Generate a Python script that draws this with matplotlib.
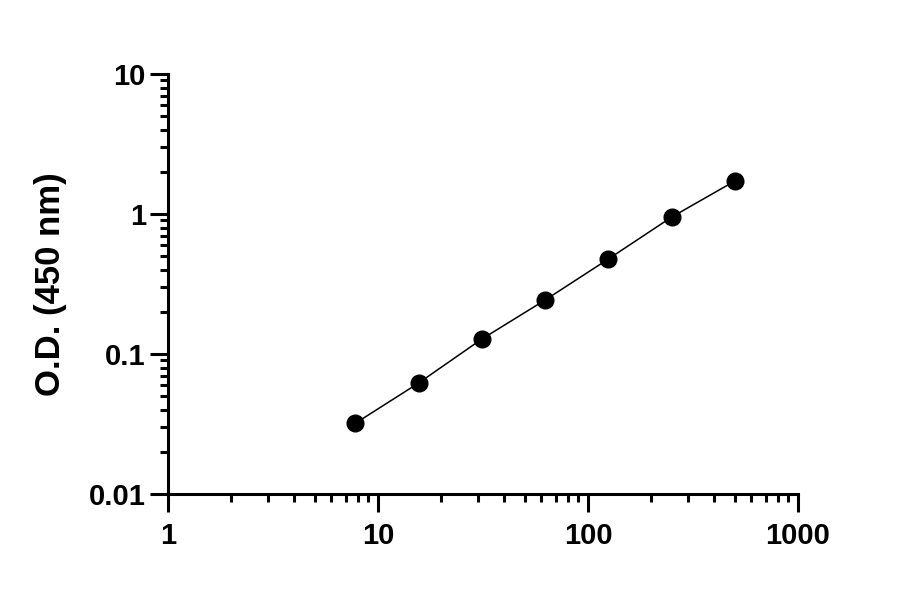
import numpy as np
import matplotlib
matplotlib.use('Agg')
import matplotlib.pyplot as plt
from matplotlib.ticker import LogLocator, FixedLocator, FixedFormatter, NullFormatter

# concentraciones (eje x) y densidad optica
conc = [7.8, 15.6, 31.25, 62.5, 125, 250, 500]
od = [0.032, 0.062, 0.128, 0.243, 0.477, 0.95, 1.72]

x_ticks = [1, 10, 100, 1000]
x_labels = ['1', '10', '100', '1000']
y_ticks = [0.01, 0.1, 1, 10]
y_labels = ['0.01', '0.1', '1', '10']

plt.rcParams['font.family'] = ['Liberation Sans', 'DejaVu Sans']
plt.rcParams['font.weight'] = 'bold'

fig = plt.figure(figsize=(9, 5.94), dpi=100)
ax = fig.add_axes([0.1867, 0.1684, 0.7, 0.7070])

ax.plot(conc, od, color='black', linewidth=1.1, marker='o', markersize=12,
        markerfacecolor='black', markeredgecolor='black', zorder=3, clip_on=False)

ax.set_xscale('log')
ax.set_yscale('log')
ax.set_xlim(1, 1000)
ax.set_ylim(0.01, 10)

ax.xaxis.set_major_locator(FixedLocator(x_ticks))
ax.xaxis.set_major_formatter(FixedFormatter(x_labels))
ax.yaxis.set_major_locator(FixedLocator(y_ticks))
ax.yaxis.set_major_formatter(FixedFormatter(y_labels))
ax.xaxis.set_minor_locator(LogLocator(base=10, subs=np.arange(2, 10)))
ax.yaxis.set_minor_locator(LogLocator(base=10, subs=np.arange(2, 10)))
ax.xaxis.set_minor_formatter(NullFormatter())
ax.yaxis.set_minor_formatter(NullFormatter())

for s in ['top', 'right']:
    ax.spines[s].set_visible(False)
for s in ['left', 'bottom']:
    ax.spines[s].set_linewidth(2.2)

ax.tick_params(which='major', length=13, width=2.2, direction='out')
ax.tick_params(which='minor', length=6, width=2.2, direction='out')
ax.tick_params(axis='x', which='major', labelsize=21, pad=7)
ax.tick_params(axis='y', which='major', labelsize=21, pad=3)

ax.set_ylabel('O.D. (450 nm)', fontsize=25, fontweight='bold')
ax.yaxis.set_label_coords(-0.16, 0.5)

fig.savefig('out.png', dpi=100)
